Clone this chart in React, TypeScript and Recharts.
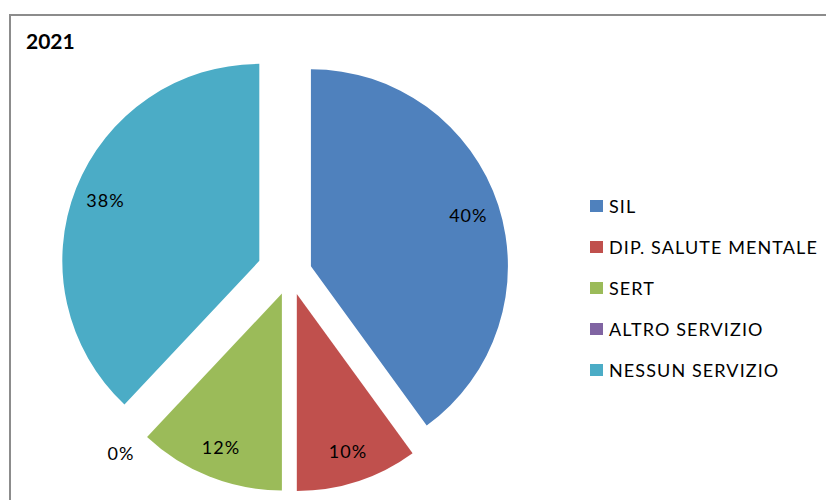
import React from "react";
import { PieChart, Pie, Cell, Sector } from "recharts";

const categories = ["SIL", "DIP. SALUTE MENTALE", "SERT", "ALTRO SERVIZIO", "NESSUN SERVIZIO"];
const shares = [40, 10, 12, 0, 38];
const colors = ["#4F81BD", "#C0504D", "#9BBB59", "#8064A2", "#4BACC6"];
// how far each slice is pulled out from the centre (px)
const explode = [22, 22, 22, 22, 33];
const title = "2021";

const data = categories.map((name, i) => ({ name, value: shares[i] }));

const RAD = Math.PI / 180;
const FONT = "Lato, 'Open Sans', sans-serif";

function ExplodedSlice(props: any) {
  const { cx, cy, midAngle, index } = props;
  const d = explode[index] ?? 22;
  const dx = d * Math.cos(midAngle * RAD);
  const dy = -d * Math.sin(midAngle * RAD);
  return <Sector {...props} cx={cx + dx} cy={cy + dy} stroke="none" />;
}

function SliceLabel(props: any) {
  const { cx, cy, midAngle, outerRadius, value, index } = props;
  // zero slice gets its label just outside the rim, like Excel does
  const r = value === 0 ? outerRadius + 50 : (explode[index] ?? 22) + outerRadius * 0.84;
  const x = cx + r * Math.cos(midAngle * RAD);
  const y = cy - r * Math.sin(midAngle * RAD);
  return (
    <text x={x} y={y} textAnchor="middle" dominantBaseline="central" fill="#000" fontSize={18} letterSpacing={1} fontFamily={FONT}>
      {`${value}%`}
    </text>
  );
}

export default function App() {
  return (
    <div style={{ position: "relative", width: 826, height: 500, overflow: "hidden", background: "#fff", fontFamily: FONT }}>
      <style>{`body{margin:0}`}</style>
      <div style={{ position: "absolute", left: 9, top: 14, width: 900, height: 600, border: "2px solid #8c8c8c" }} />
      <div style={{ position: "absolute", left: 26, top: 28, fontSize: 21, fontWeight: 700, color: "#000" }}>{title}</div>
      <div style={{ position: "absolute", left: 0, top: 0 }}>
        <PieChart width={826} height={500} margin={{ top: 0, right: 0, bottom: 0, left: 0 }}>
          <Pie
            data={data}
            dataKey="value"
            nameKey="name"
            cx={290}
            cy={273}
            outerRadius={197}
            startAngle={90}
            endAngle={-270}
            shape={ExplodedSlice}
            label={SliceLabel}
            labelLine={false}
            isAnimationActive={false}
          >
            {data.map((d, i) => (
              <Cell key={d.name} fill={colors[i]} />
            ))}
          </Pie>
        </PieChart>
      </div>
      <div style={{ position: "absolute", left: 590, top: 185 }}>
        {categories.map((c, i) => (
          <div key={c} style={{ display: "flex", alignItems: "center", height: 41.2 }}>
            <span style={{ display: "inline-block", width: 13, height: 12, background: colors[i], marginRight: 6 }} />
            <span style={{ fontSize: 18, letterSpacing: 1.1, color: "#000", lineHeight: "24px" }}>{c}</span>
          </div>
        ))}
      </div>
    </div>
  );
}
